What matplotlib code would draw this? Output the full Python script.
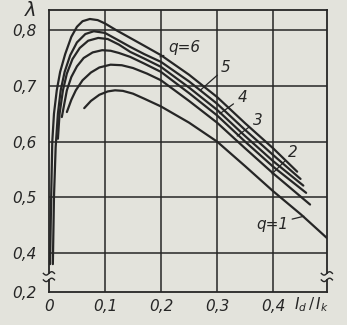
import numpy as np
import matplotlib
matplotlib.use("Agg")
import matplotlib.pyplot as plt
from matplotlib.patches import Rectangle

# ---- data ----
q6_x = [0.002, 0.004, 0.006, 0.009, 0.014, 0.020, 0.029, 0.040, 0.050, 0.060, 0.073, 0.087, 0.100, 0.120, 0.145, 0.170, 0.200, 0.250, 0.300, 0.350, 0.400, 0.443]
q6_y = [0.380, 0.500, 0.600, 0.650, 0.692, 0.725, 0.757, 0.788, 0.806, 0.816, 0.820, 0.818, 0.812, 0.800, 0.786, 0.772, 0.755, 0.720, 0.680, 0.633, 0.588, 0.546]

q5_x = [0.007, 0.009, 0.012, 0.016, 0.021, 0.028, 0.038, 0.050, 0.065, 0.080, 0.100, 0.120, 0.145, 0.170, 0.200, 0.250, 0.300, 0.350, 0.400, 0.449]
q5_y = [0.380, 0.500, 0.590, 0.650, 0.692, 0.725, 0.755, 0.778, 0.793, 0.798, 0.795, 0.784, 0.770, 0.757, 0.743, 0.708, 0.668, 0.621, 0.576, 0.533]

q4_x = [0.016, 0.019, 0.025, 0.032, 0.042, 0.055, 0.070, 0.088, 0.105, 0.125, 0.145, 0.170, 0.200, 0.250, 0.300, 0.350, 0.400, 0.454]
q4_y = [0.605, 0.650, 0.692, 0.722, 0.748, 0.768, 0.781, 0.786, 0.784, 0.774, 0.761, 0.749, 0.734, 0.697, 0.657, 0.610, 0.565, 0.521]

q3_x = [0.023, 0.032, 0.040, 0.050, 0.062, 0.078, 0.095, 0.110, 0.125, 0.145, 0.170, 0.200, 0.250, 0.300, 0.350, 0.400, 0.459]
q3_y = [0.644, 0.692, 0.716, 0.735, 0.750, 0.760, 0.764, 0.763, 0.759, 0.752, 0.740, 0.725, 0.687, 0.647, 0.600, 0.555, 0.508]

q2_x = [0.032, 0.040, 0.048, 0.060, 0.075, 0.090, 0.110, 0.130, 0.150, 0.175, 0.200, 0.250, 0.300, 0.350, 0.400, 0.466]
q2_y = [0.653, 0.675, 0.692, 0.710, 0.724, 0.733, 0.738, 0.737, 0.732, 0.722, 0.710, 0.673, 0.634, 0.588, 0.543, 0.487]

q1_x = [0.063, 0.075, 0.090, 0.105, 0.118, 0.132, 0.150, 0.170, 0.200, 0.250, 0.300, 0.350, 0.400, 0.450, 0.496]
q1_y = [0.660, 0.673, 0.684, 0.690, 0.692, 0.691, 0.686, 0.677, 0.663, 0.634, 0.600, 0.556, 0.511, 0.469, 0.427]

series = [(q6_x, q6_y), (q5_x, q5_y), (q4_x, q4_y), (q3_x, q3_y), (q2_x, q2_y), (q1_x, q1_y)]

x_ticks = [0.0, 0.1, 0.2, 0.3, 0.4]
x_tick_labels = ["0", "0,1", "0,2", "0,3", "0,4"]
y_bottom = 0.330
y_ticks = [y_bottom, 0.4, 0.5, 0.6, 0.7, 0.8]
y_tick_labels = ["0,2", "0,4", "0,5", "0,6", "0,7", "0,8"]

# curve labels: (text, text position, leader end)
curve_labels = [
    ("q=6", (0.241, 0.768), (0.198, 0.752)),
    ("5", (0.316, 0.733), (0.270, 0.692)),
    ("4", (0.345, 0.679), (0.305, 0.650)),
    ("3", (0.373, 0.638), (0.336, 0.610)),
    ("2", (0.436, 0.580), (0.398, 0.542)),
    ("q=1", (0.398, 0.452), (0.455, 0.466)),
]

paper = "#e3e3dc"
ink = "#262626"
FONT = ["Liberation Sans Narrow", "DejaVu Sans"]

fig = plt.figure(figsize=(3.47, 3.25), dpi=100, facecolor=paper)
ax = fig.add_axes([0.141, 0.1015, 0.801, 0.8675], facecolor=paper)

ax.set_xlim(0.0, 0.496)
ax.set_ylim(y_bottom, 0.836)

for xv in x_ticks[1:]:
    ax.axvline(xv, color=ink, lw=1.1, zorder=1)
for yv in y_ticks[1:]:
    ax.axhline(yv, color=ink, lw=1.1, zorder=1)

for xs, ys in series:
    ax.plot(xs, ys, color=ink, lw=1.6, solid_capstyle="round",
            solid_joinstyle="round", zorder=3)

for s in ax.spines.values():
    s.set_color(ink)
    s.set_linewidth(1.3)

ax.set_xticks(x_ticks)
ax.set_xticklabels(x_tick_labels)
ax.set_yticks(y_ticks)
ax.set_yticklabels(y_tick_labels)
ax.tick_params(length=0, colors=ink, labelsize=11)
ax.tick_params(axis="y", pad=9)
ax.tick_params(axis="x", pad=5)
for lab in ax.get_xticklabels() + ax.get_yticklabels():
    lab.set_family(FONT)
    lab.set_style("italic")

for txt, pos, end in curve_labels:
    ax.annotate(txt, xy=end, xytext=pos, fontsize=11, color=ink,
                family=FONT, style="italic", ha="center", va="center",
                arrowprops=dict(arrowstyle="-", color=ink, lw=0.9,
                                shrinkA=1, shrinkB=0), zorder=5)

ax.text(-0.065, 1.0, "λ", transform=ax.transAxes, fontsize=14, color=ink,
        ha="center", va="center", style="italic")
ax.text(0.945, -0.045, r"$I_d\,/\,I_k$", transform=ax.transAxes, fontsize=11,
        color=ink, ha="center", va="center")

# axis break marks
tt = np.linspace(-1, 1, 30)
for xa in (0.0, 1.0):
    ax.add_patch(Rectangle((xa - 0.01, 0.045), 0.02, 0.02, transform=ax.transAxes,
                           facecolor=paper, edgecolor="none", clip_on=False, zorder=6))
    for yb in (0.066, 0.043):
        ax.plot(xa + 0.02 * tt, yb + 0.006 * np.sin(np.pi * tt), color=ink, lw=1.0,
                transform=ax.transAxes, clip_on=False, zorder=7)

fig.savefig("out.png", dpi=100, facecolor=paper)
